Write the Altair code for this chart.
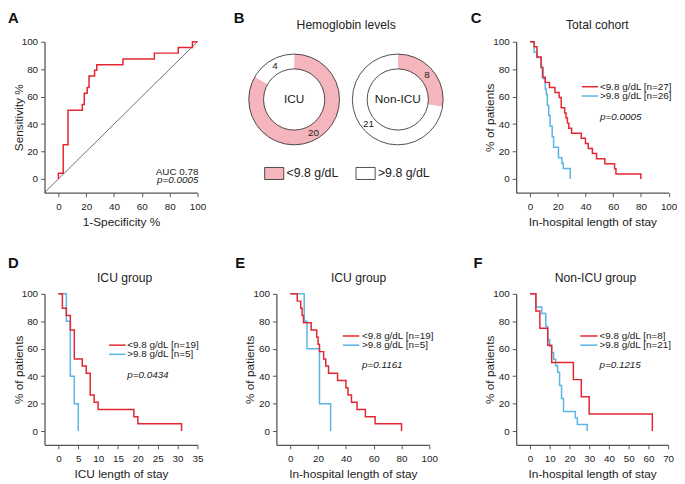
import math
import altair as alt
import pandas as pd

FONT = "Liberation Sans"
INK = "#222222"
AX = "#555555"
RED = "#e3262f"
BLUE = "#5bb5e6"
PINK = "#f5b5bd"

# ---------------- data ----------------
# A: ROC curve (1-specificity %, sensitivity %)
roc_fpr = [0, 0, 3.45, 3.45, 6.9, 6.9, 17.2, 17.2, 18.6, 18.6, 20.7, 20.7, 22.0, 22.0,
           26.0, 26.0, 27.6, 27.6, 46.4, 46.4, 69.0, 69.0, 86.2, 86.2, 96.4, 96.4, 100]
roc_tpr = [0, 4.17, 4.17, 25, 25, 50, 50, 54.2, 54.2, 62.5, 62.5, 66.7, 66.7, 75,
           75, 79.2, 79.2, 83.3, 83.3, 87.5, 87.5, 91.7, 91.7, 95.8, 95.8, 100, 100]
diag_vals = [-10, 100]
roc_auc = "AUC 0.78"
roc_p = "p=0.0005"

# B: hemoglobin levels
groups = ["ICU", "Non-ICU"]
levels = ["<9.8 g/dL", ">9.8 g/dL"]
icu_counts = [20, 4]
nonicu_counts = [8, 21]

# C: total cohort, in-hospital LOS
c_red_t = [0, 3, 5, 8, 9, 11, 14, 18, 21, 22.5, 25, 26, 27, 28, 30, 37, 40, 42, 45, 48, 54, 61, 62, 80]
c_red_s = [100, 96.3, 88.9, 81.5, 74.1, 70.4, 66.7, 63.0, 59.3, 51.9, 48.1, 44.4, 40.7, 37.0,
           33.3, 29.6, 25.9, 22.2, 18.5, 14.8, 11.1, 7.4, 3.7, 0]
c_blue_t = [0, 3, 5, 8, 9.5, 11, 11.8, 12.5, 13.5, 14.5, 16, 17, 20.5, 23, 24, 29]
c_blue_s = [100, 92.3, 88.5, 80.8, 73.1, 65.4, 61.5, 53.8, 46.2, 38.5, 30.8, 23.1, 15.4, 11.5, 7.7, 0]
c_labels = ["<9.8 g/dL [n=27]", ">9.8 g/dL [n=26]"]
c_p = "p=0.0005"

# D: ICU group, ICU LOS
d_red_t = [0, 1, 2, 3, 4, 6, 7, 8, 9, 10, 19, 20, 31]
d_red_s = [100, 89.5, 84.2, 73.7, 52.6, 47.4, 42.1, 26.3, 21.1, 15.8, 10.5, 5.3, 0]
d_blue_t = [0, 2, 3, 4, 5]
d_blue_s = [100, 80, 40, 20, 0]
d_labels = ["<9.8 g/dL [n=19]", ">9.8 g/dL [n=5]"]
d_p = "p=0.0434"

# E: ICU group, in-hospital LOS
e_red_t = [0, 5, 7.5, 8.5, 9.5, 15, 19, 20, 21, 24, 25.5, 27.5, 34, 40, 41.5, 44, 48, 54, 61, 80]
e_red_s = [100, 94.7, 89.5, 84.2, 78.9, 73.7, 68.4, 63.2, 57.9, 52.6, 47.4, 42.1, 36.8, 31.6,
           26.3, 21.1, 15.8, 10.5, 5.3, 0]
e_blue_t = [0, 10, 12, 21, 29]
e_blue_s = [100, 80, 60, 20, 0]
e_labels = ["<9.8 g/dL [n=19]", ">9.8 g/dL [n=5]"]
e_p = "p=0.1161"

# F: non-ICU group, in-hospital LOS
f_red_t = [0, 3, 5, 9, 11, 22, 26, 30, 62]
f_red_s = [100, 87.5, 75, 62.5, 50, 37.5, 25, 12.5, 0]
f_blue_t = [0, 3, 6, 8, 9, 10, 11, 12, 13, 14, 15, 16, 17, 23, 24, 29]
f_blue_s = [100, 90.5, 85.7, 76.2, 66.7, 61.9, 57.1, 52.4, 47.6, 42.9, 33.3, 23.8, 14.3, 9.5, 4.8, 0]
f_labels = ["<9.8 g/dL [n=8]", ">9.8 g/dL [n=21]"]
f_p = "p=0.1215"

Y_TICKS = [0, 20, 40, 60, 80, 100]
H = 153
LET1 = -31   # letter position, top row
LET2 = -38   # letter position, bottom row


def text_layer(txt, x, y, size=10, align="left", baseline="middle", weight="normal",
               style="normal", color=INK):
    return alt.Chart(pd.DataFrame({"t": [txt]})).mark_text(
        font=FONT, fontSize=size, align=align, baseline=baseline, fontWeight=weight,
        fontStyle=style, color=color
    ).encode(x=alt.value(x), y=alt.value(y), text="t:N")


def legend_layers(labels, x1, x2, xl, y1, y2):
    out = []
    for lab, col, yy in zip(labels, [RED, BLUE], [y1, y2]):
        df = pd.DataFrame({"t": [lab]})
        out.append(alt.Chart(df).mark_rule(color=col, strokeWidth=1.5).encode(
            x=alt.value(x1), x2=alt.value(x2), y=alt.value(yy)))
        out.append(alt.Chart(df).mark_text(font=FONT, fontSize=10, align="left",
                                           baseline="middle", color=INK).encode(
            x=alt.value(xl), y=alt.value(yy), text="t:N"))
    return out


def km_panel(red_t, red_s, blue_t, blue_s, xdom, xvals, width, xtitle, title, title_x,
             title_y, letter, letter_x, letter_y, labels, leg, pval, p_y):
    xs = alt.X("t:Q", scale=alt.Scale(domain=xdom, nice=False, zero=False),
               axis=alt.Axis(values=xvals, title=xtitle, format="d", labelFlush=False))
    ys = alt.Y("s:Q", scale=alt.Scale(domain=[-10, 100], nice=False, zero=False),
               axis=alt.Axis(values=Y_TICKS, title="% of patients", format="d"))
    blue = alt.Chart(pd.DataFrame({"t": blue_t, "s": blue_s})).mark_line(
        interpolate="step-after", color=BLUE, strokeWidth=1.5).encode(x=xs, y=ys)
    red = alt.Chart(pd.DataFrame({"t": red_t, "s": red_s})).mark_line(
        interpolate="step-after", color=RED, strokeWidth=1.5).encode(x=xs, y=ys)
    layers = [blue, red]
    layers += legend_layers(labels, *leg)
    layers.append(text_layer(pval, leg[2], p_y, style="italic"))
    layers.append(text_layer(title, title_x, title_y, size=12.3, align="center",
                             baseline="alphabetic"))
    layers.append(text_layer(letter, letter_x, letter_y, size=15, weight="bold",
                             baseline="top", color="#111111"))
    return alt.layer(*layers).properties(width=width, height=H)


# ---- A ----
roc_df = pd.DataFrame({"fpr": roc_fpr, "tpr": roc_tpr, "i": range(len(roc_fpr))})
ax_a = alt.X("fpr:Q", scale=alt.Scale(domain=[-10, 100], nice=False, zero=False),
             axis=alt.Axis(values=Y_TICKS, title="1-Specificity %", format="d", labelFlush=False))
ay_a = alt.Y("tpr:Q", scale=alt.Scale(domain=[-10, 100], nice=False, zero=False),
             axis=alt.Axis(values=Y_TICKS, title="Sensitivity %", format="d"))
diag = alt.Chart(pd.DataFrame({"fpr": diag_vals, "tpr": diag_vals})).mark_line(
    color="#333333", strokeWidth=0.7).encode(x=ax_a, y=ay_a)
roc = alt.Chart(roc_df).mark_line(color=RED, strokeWidth=1.5).encode(x=ax_a, y=ay_a, order="i:Q")
panel_a = alt.layer(
    diag, roc,
    text_layer(roc_auc, 156, 131.6, align="right"),
    text_layer(roc_p, 156, 140.5, align="right", style="italic"),
    text_layer("A", -37, LET1, size=15, weight="bold", baseline="top", color="#111111"),
).properties(width=155, height=H)

# ---- B ---- (view starts at the same x as panel E; content may overflow it)
rows = []
for g, counts in zip(groups, [icu_counts, nonicu_counts]):
    total = sum(counts)
    cum = 0
    for lvl, c in zip(levels, counts):
        t0 = 2 * math.pi * cum / total
        cum += c
        t1 = 2 * math.pi * cum / total
        rows.append({"group": g, "level": lvl, "n": c, "t0": t0, "t1": t1, "tm": (t0 + t1) / 2})
donut = pd.DataFrame(rows)
grp_df = pd.DataFrame({"group": groups})
bx = alt.X("group:N", scale=alt.Scale(type="point", domain=groups, range=[18, 123], padding=0),
           axis=None)
CY = 58.5
arcs = alt.Chart(donut).mark_arc(radius=46, radius2=31).encode(
    x=bx, y=alt.value(CY),
    theta=alt.Theta("t0:Q", scale=None, stack=None), theta2="t1:Q",
    fill=alt.Fill("level:N", scale=alt.Scale(domain=levels, range=[PINK, "#ffffff"]),
                  legend=alt.Legend(orient="none", legendX=-12.7, legendY=122.6,
                                    direction="horizontal", title=None,
                                    symbolType="M-1,-0.63H1V0.63H-1Z", symbolSize=376,
                                    symbolStrokeColor="#222222", symbolStrokeWidth=0.8,
                                    labelFont=FONT, labelFontSize=12.5, labelColor=INK,
                                    labelOffset=2, columnPadding=15.6, padding=0)),
)
rings = alt.Chart(grp_df).mark_arc(radius=46, radius2=31, theta=0, theta2=6.2832,
                                   fillOpacity=0, stroke="#222222", strokeWidth=0.8).encode(
    x=bx, y=alt.value(CY))
centre = alt.Chart(grp_df).mark_text(font=FONT, fontSize=12, color=INK).encode(
    x=bx, y=alt.value(CY), text="group:N")
counts_txt = alt.Chart(donut).mark_text(font=FONT, fontSize=10, color=INK, radius=39).encode(
    x=bx, y=alt.value(CY), theta=alt.Theta("tm:Q", scale=None, stack=None), text="n:Q")
panel_b = alt.layer(
    arcs, rings, centre, counts_txt,
    text_layer("Hemoglobin levels", 70.7, -13.4, size=12.3, align="center", baseline="alphabetic"),
    text_layer("B", -43.3, LET1, size=15, weight="bold", baseline="top", color="#111111"),
).properties(width=162.7, height=H)

# ---- C-F ----
panel_c = km_panel(c_red_t, c_red_s, c_blue_t, c_blue_s, [-10, 100], Y_TICKS, 154.5,
                   "In-hospital length of stay", "Total cohort", 82.3, -13.4, "C", -46, LET1,
                   c_labels, (66.6, 83, 85, 45.6, 55), c_p, 76)
panel_d = km_panel(d_red_t, d_red_s, d_blue_t, d_blue_s, [-3.5, 35], [0, 5, 10, 15, 20, 25, 30, 35],
                   155, "ICU length of stay", "ICU group", 81.2, -12.5, "D", -37, LET2,
                   d_labels, (65.5, 82.2, 83.8, 52, 61.3), d_p, 82)
panel_e = km_panel(e_red_t, e_red_s, e_blue_t, e_blue_s, [-10, 100], Y_TICKS, 155,
                   "In-hospital length of stay", "ICU group", 83.3, -12, "E", -41.7, LET2,
                   e_labels, (67.3, 84, 86.7, 42.7, 52), e_p, 72)
panel_f = km_panel(f_red_t, f_red_s, f_blue_t, f_blue_s, [-7, 70], [0, 10, 20, 30, 40, 50, 60, 70],
                   154, "In-hospital length of stay", "Non-ICU group", 80.4, -12, "F", -43.3, LET2,
                   f_labels, (65, 82.4, 84.4, 42.7, 52), f_p, 72)

chart = alt.concat(
    panel_a, panel_b, panel_c, panel_d, panel_e, panel_f,
    columns=3, spacing={"row": 102.5, "column": 80}, bounds="flush"
).resolve_scale(fill="independent").properties(padding=0).configure_view(
    strokeWidth=0
).configure_axis(
    domainColor=AX, domainWidth=1.3, tickColor=AX, tickWidth=1, tickSize=4,
    labelFont=FONT, labelFontSize=10, labelColor=INK, labelPadding=3,
    titleFont=FONT, titleFontSize=12, titleFontWeight="normal", titleColor=INK,
    grid=False
).configure_axisY(titlePadding=-4).configure_axisX(titlePadding=5, labelPadding=5)

chart.save("out.html", embed_options={"renderer": "svg", "actions": False})
